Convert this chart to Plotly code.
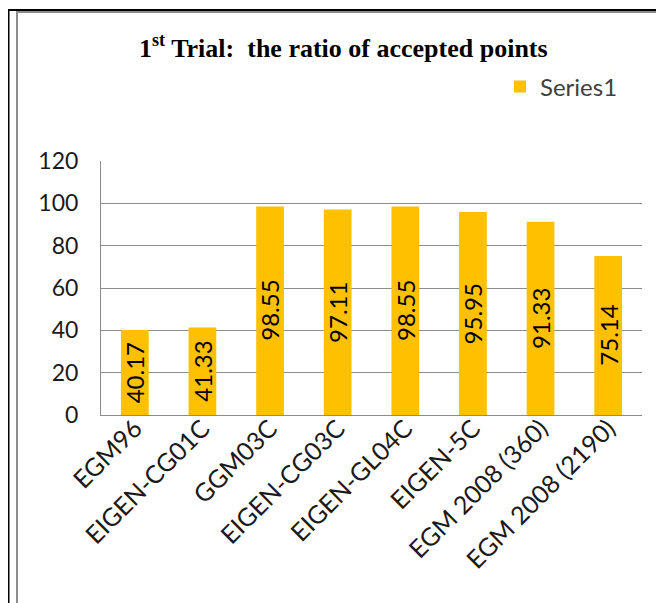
import plotly.graph_objects as go

categories = ["EGM96", "EIGEN-CG01C", "GGM03C", "EIGEN-CG03C", "EIGEN-GL04C",
              "EIGEN-5C", "EGM 2008 (360)", "EGM 2008 (2190)"]
values = [40.17, 41.33, 98.55, 97.11, 98.55, 95.95, 91.33, 75.14]
series_name = "Series1"
y_ticks = [0, 20, 40, 60, 80, 100, 120]

# page body has an 8px margin, so the figure is drawn 8px in from the window edge
OFF = 8
W, H = 664 - OFF, 603 - OFF
L, R, T, B = 101 - OFF, 642 - OFF, 161 - OFF, 415 - OFF


def px(x):
    # x given in window pixels
    return (x - OFF - L) / (R - L)


def py(y):
    return (B - (y - OFF)) / (B - T)


fig = go.Figure()
fig.add_trace(go.Bar(
    x=categories, y=values, name=series_name,
    marker=dict(color="#FFC000", line=dict(width=0)),
    textposition="none",
    showlegend=True,
))

label_annotations = [
    dict(x=c, y=v / 2, xref="x", yref="y", text=f"{v:.2f}", textangle=-90,
         showarrow=False, xanchor="center", yanchor="middle",
         font=dict(family="Lato", size=24, color="#000000"))
    for c, v in zip(categories, values)
]

shapes = [
    dict(type="line", xref="paper", yref="paper", x0=px(8.5), x1=px(8.5), y0=py(10), y1=py(620),
         line=dict(color="#000000", width=2)),
    dict(type="line", xref="paper", yref="paper", x0=px(8), x1=px(680), y0=py(10), y1=py(10),
         line=dict(color="#000000", width=2)),
    dict(type="line", xref="paper", yref="paper", x0=px(17), x1=px(17), y0=py(12), y1=py(620),
         line=dict(color="#8c8c8c", width=2)),
    dict(type="line", xref="paper", yref="paper", x0=px(16), x1=px(680), y0=py(12), y1=py(12),
         line=dict(color="#8c8c8c", width=2)),
]

fig.update_layout(
    width=W, height=H,
    margin=dict(l=L, r=W - R, t=T, b=H - B, pad=0),
    paper_bgcolor="white", plot_bgcolor="white",
    bargap=0.59,
    shapes=shapes,
    annotations=[dict(
        text="<b>1<sup>st</sup> Trial:  the ratio of accepted points</b>",
        xref="paper", yref="paper", x=px(343), y=py(47),
        xanchor="center", yanchor="middle", showarrow=False,
        font=dict(family="Liberation Serif", size=26, color="#000000"),
    )] + label_annotations,
    legend=dict(
        x=px(500), y=py(87), xanchor="left", yanchor="middle",
        font=dict(family="Lato", size=24, color="#404040"),
        bgcolor="rgba(0,0,0,0)", itemwidth=30,
    ),
    xaxis=dict(
        tickangle=-45, showline=True, linecolor="#8c8c8c", linewidth=1,
        ticks="", showgrid=False, ticklabelstandoff=-12,
        tickfont=dict(family="Lato", size=25, color="#1a1a1a"),
    ),
    yaxis=dict(
        range=[0, 120], tickvals=y_ticks, showline=True, linecolor="#8c8c8c", linewidth=1,
        showgrid=True, gridcolor="#8c8c8c", gridwidth=1, zeroline=False,
        ticks="", ticklabelstandoff=17,
        tickfont=dict(family="Lato", size=23, color="#1a1a1a"),
    ),
)

fig.write_html("out.html")
